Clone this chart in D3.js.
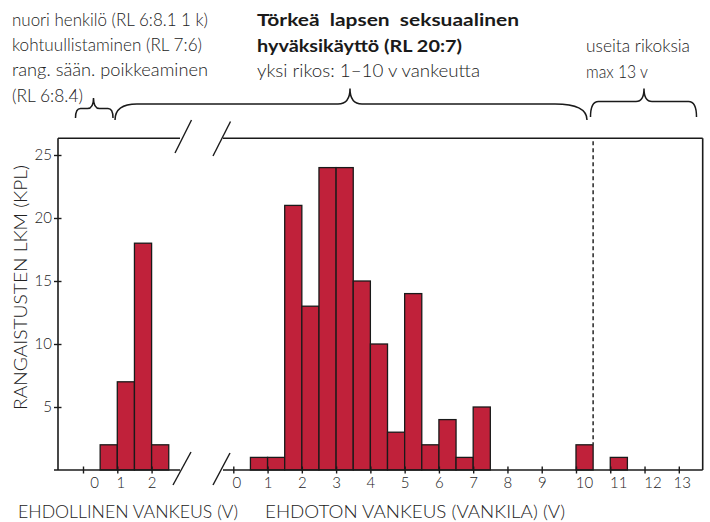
<!DOCTYPE html>
<html><head><meta charset="utf-8">
<script src="https://cdn.jsdelivr.net/npm/d3@7"></script>
<style>
html,body{margin:0;padding:0;background:#fff;}
text{font-family:Lato,"Open Sans",sans-serif;fill:#222;font-weight:300;}
text.bold{font-weight:700;fill:#1a1a1a;}
</style></head>
<body>
<svg id="c" width="710" height="522"></svg>
<script>
// ---- data ----
const condStarts = [0.5, 1, 1.5, 2];            // ehdollinen vankeus (years), bin start
const condCounts = [2, 7, 18, 2];
const uncondStarts = [0.5, 1, 1.5, 2, 2.5, 3, 3.5, 4, 4.5, 5, 5.5, 6, 6.5, 7, 7.5, 8, 8.5, 9, 9.5, 10, 10.5, 11];
const uncondCounts = [1, 1, 21, 13, 24, 24, 15, 10, 3, 14, 2, 4, 1, 5, 0, 0, 0, 0, 0, 2, 0, 1];
const binWidth = 0.5;
const condTicks = [0, 1, 2];
const uncondTicks = [0,1,2,3,4,5,6,7,8,9,10,11,12,13];
const yTicks = [5, 10, 15, 20, 25];
const maxSingle = 10.5;  // dashed line: max for a single offence
const yLabel = "RANGAISTUSTEN LKM (KPL)";
const xLabelCond = "EHDOLLINEN VANKEUS (V)";
const xLabelUncond = "EHDOTON VANKEUS (VANKILA) (V)";
const noteLeft = ["nuori henkilö (RL 6:8.1 1 k)", "kohtuullistaminen (RL 7:6)", "rang. sään. poikkeaminen", "(RL 6:8.4)"];
const noteMidBold = ["Törkeä  lapsen  seksuaalinen", "hyväksikäyttö (RL 20:7)"];
const noteMid = "yksi rikos: 1–10 v vankeutta";
const noteRight = ["useita rikoksia", "max 13 v"];

// ---- layout ----
const svg = d3.select("#c");
const ink = "#1a1a1a";
const barFill = "#c0213a";
const y = d3.scaleLinear().domain([0, 25]).range([470, 155]);
const xL = d3.scaleLinear().domain([0, 2]).range([83, 151.6]);
const xR = d3.scaleLinear().domain([0, 13]).range([233.3, 678.8]);
const axisLeftX = 58, frameRight = 702.7, frameTop = 138.3, base = y(0);

// bars
function drawBars(starts, counts, x) {
  svg.append("g").selectAll("rect")
    .data(starts.map((s, i) => ({s, c: counts[i]})).filter(d => d.c > 0))
    .join("rect")
    .attr("x", d => x(d.s)).attr("width", d => x(d.s + binWidth) - x(d.s))
    .attr("y", d => y(d.c)).attr("height", d => y(0) - y(d.c))
    .attr("fill", barFill).attr("stroke", ink).attr("stroke-width", 1.3);
}
drawBars(condStarts, condCounts, xL);
drawBars(uncondStarts, uncondCounts, xR);

// frame lines
const g = svg.append("g").attr("stroke", ink).attr("stroke-width", 1.6).attr("fill", "none");
g.append("line").attr("x1", axisLeftX).attr("x2", axisLeftX).attr("y1", frameTop).attr("y2", base);
g.append("line").attr("x1", axisLeftX - 4).attr("x2", 180).attr("y1", base).attr("y2", base);
g.append("line").attr("x1", 223).attr("x2", frameRight).attr("y1", base).attr("y2", base);
g.append("line").attr("x1", axisLeftX).attr("x2", 180).attr("y1", frameTop).attr("y2", frameTop);
g.append("line").attr("x1", 223).attr("x2", frameRight).attr("y1", frameTop).attr("y2", frameTop);
g.append("line").attr("x1", frameRight).attr("x2", frameRight).attr("y1", frameTop).attr("y2", base);
// break slashes
[[175,153,191.5,120],[213,156,230.5,121.5],[173,485,191,452],[213,485,230,453]].forEach(p =>
  g.append("line").attr("x1", p[0]).attr("y1", p[1]).attr("x2", p[2]).attr("y2", p[3]).attr("stroke-width", 1.4));

// dashed line
svg.append("line").attr("x1", xR(maxSingle)).attr("x2", xR(maxSingle))
  .attr("y1", frameTop + 3).attr("y2", y(uncondCounts[uncondStarts.indexOf(10)]))
  .attr("stroke", "#333").attr("stroke-width", 1.6).attr("stroke-dasharray", "4,3");

// y axis ticks
const yAxis = d3.axisLeft(y).tickValues(yTicks).tickSize(4).tickPadding(2).tickFormat(d3.format("d"));
const ya = svg.append("g").attr("transform", `translate(${axisLeftX},0)`).call(yAxis);
ya.select(".domain").remove();
ya.selectAll(".tick line").attr("x2", -4).attr("x1", 3.5).attr("stroke", ink).attr("stroke-width", 1.4);
ya.selectAll(".tick text").attr("font-size", 15).attr("font-family", "Lato");

// x axes
function xAxis(x, ticks, offs) {
  const a = svg.append("g").attr("transform", `translate(0,${base})`)
    .call(d3.axisBottom(x).tickValues(ticks).tickSize(4).tickPadding(0).tickFormat(d3.format("d")));
  a.select(".domain").remove();
  a.selectAll(".tick line").attr("y1", -3.5).attr("y2", 3.5).attr("stroke", ink).attr("stroke-width", 1.4);
  a.selectAll(".tick text").attr("font-size", 15).attr("font-family", "Lato")
    .attr("y", 18).attr("dy", 0).attr("dx", d => offs(d));
}
xAxis(xL, condTicks, d => d === 0 ? 11 : (d === 1 ? 3 : 0));
xAxis(xR, uncondTicks, d => d === 0 ? 3 : (d >= 10 && d <= 12 ? 8 : (d === 13 ? 3 : 0)));

// axis titles
svg.append("text").attr("x", 18).attr("y", 518).attr("font-size", 17)
  .attr("textLength", 220).attr("lengthAdjust", "spacingAndGlyphs").text(xLabelCond);
svg.append("text").attr("x", 265).attr("y", 518).attr("font-size", 17)
  .attr("textLength", 300).attr("lengthAdjust", "spacingAndGlyphs").text(xLabelUncond);
svg.append("text").attr("transform", "translate(26.5,287.5) rotate(-90)").attr("text-anchor", "middle")
  .attr("font-size", 18).attr("textLength", 245).attr("lengthAdjust", "spacingAndGlyphs").text(yLabel);

// notes
const leftLens = [196, 190, 196, 71];
noteLeft.forEach((t, i) => svg.append("text").attr("x", 12).attr("y", 26 + i * 25.2).attr("font-size", 17)
  .attr("textLength", leftLens[i]).attr("lengthAdjust", "spacingAndGlyphs").text(t));
const boldLens = [262, 205];
noteMidBold.forEach((t, i) => svg.append("text").attr("class", "bold").attr("x", 257).attr("y", 26 + i * 25.5)
  .attr("font-size", 17).style("white-space", "pre")
  .attr("textLength", boldLens[i]).attr("lengthAdjust", "spacingAndGlyphs").text(t));
svg.append("text").attr("x", 257).attr("y", 77).attr("font-size", 17)
  .attr("textLength", 223).attr("lengthAdjust", "spacingAndGlyphs").text(noteMid);
const rightLens = [104, 62];
noteRight.forEach((t, i) => svg.append("text").attr("x", 586).attr("y", 52 + i * 25.5).attr("font-size", 17)
  .attr("textLength", rightLens[i]).attr("lengthAdjust", "spacingAndGlyphs").text(t));

// braces
function brace(x1, x2, tip, yEnd, yFlat, yTip, r1, r2, rt) {
  return `M${x1},${yEnd} Q${x1},${yFlat} ${x1 + r1},${yFlat} L${tip - rt},${yFlat} Q${tip},${yFlat} ${tip},${yTip}` +
         ` Q${tip},${yFlat} ${tip + rt},${yFlat} L${x2 - r2},${yFlat} Q${x2},${yFlat} ${x2},${yEnd}`;
}
const bg = svg.append("g").attr("fill", "none").attr("stroke", ink).attr("stroke-width", 1.5);
bg.append("path").attr("d", brace(75.5, 113, 93.5, 118, 108.5, 98, 5, 5, 6));
bg.append("path").attr("d", brace(115, 587, 350, 120, 104, 88.5, 22, 32, 12));
bg.append("path").attr("d", brace(590.5, 696.5, 644, 117, 101.5, 88.5, 8, 8, 8));
</script>
</body></html>
